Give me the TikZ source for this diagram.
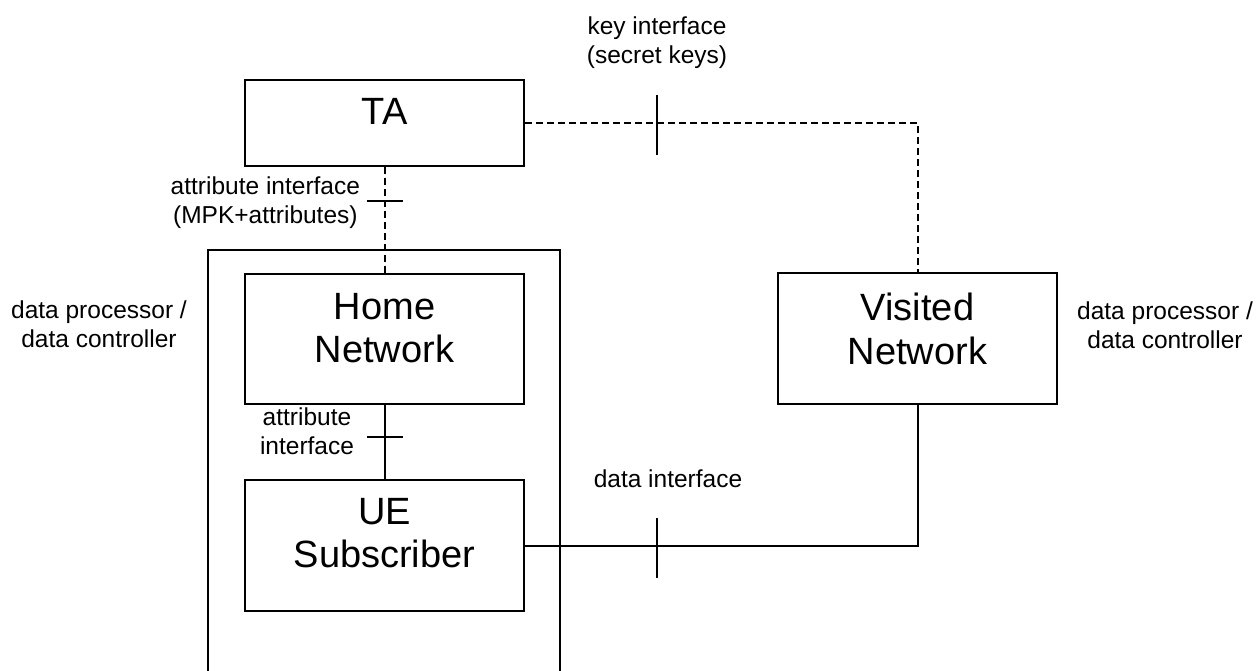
\documentclass[tikz,border=0pt]{standalone}
\usepackage{fontspec}
\setmainfont{Liberation Sans}
\begin{document}
\begin{tikzpicture}[x=1pt,y=-1pt, line width=2pt,
  box/.style={draw, rectangle, inner sep=0pt, minimum width=279pt},
  big/.style={font=\fontsize{38}{43.5}\selectfont, align=center, inner sep=0pt},
  small/.style={font=\fontsize{24.5}{29.3}\selectfont, align=center, inner sep=0pt},
  iface/.style={dash pattern=on 7pt off 4pt}]
\useasboundingbox (0,0) rectangle (1259,671);

% boxes
\node[box, minimum height=86pt]  (ta)   at (384.5,123)   {};
\node[box, minimum height=130pt] (home) at (384.5,339)   {};
\node[box, minimum height=131pt] (ue)   at (384.5,545.5) {};
\node[box, minimum height=131pt] (vn)   at (917.5,338.5) {};

% box texts
\node[big] (tat)   at (384.5,111) {TA};
\node[big] (homet) at (384.5,328) {Home\\Network};
\node[big] (uet)   at (384.5,533) {UE\\Subscriber};
\node[big] (vnt)   at (917.5,329) {Visited\\Network};

% outer domain box (open at the bottom edge)
\coordinate (ob1) at (208,675);
\coordinate (ob2) at (208,250);
\coordinate (ob3) at (560,250);
\coordinate (ob4) at (560,675);
\draw (ob1) -- (ob2) -- (ob3) -- (ob4);

% connectors
\draw[iface] (ta.south) -- (home.north);
\draw[iface] (ta.east) -| (vn.north);
\draw (home.south) -- (ue.north);
\draw (ue.east) -| (vn.south);

% interface ticks
\coordinate (a1) at (366.5,201); \coordinate (a2) at (402.5,201);
\draw (a1) -- (a2);
\coordinate (b1) at (366.5,437); \coordinate (b2) at (402.5,437);
\draw (b1) -- (b2);
\coordinate (k1) at (657,95); \coordinate (k2) at (657,155);
\draw (k1) -- (k2);
\coordinate (d1) at (657,518); \coordinate (d2) at (657,578);
\draw (d1) -- (d2);

% labels
\node[small] (keyl)  at (657,43)  {key interface\\(secret keys)};
\node[small, anchor=east] (attl1) at (361,203) {attribute interface\\(MPK+attributes)};
\node[small] (attl2) at (307,431) {attribute\\interface};
\node[small] (datal) at (668,479) {data interface};
\node[small] (dpl)   at (99,324)  {data processor /\\data controller};
\node[small] (dpr)   at (1165,325) {data processor /\\data controller};
\end{tikzpicture}
\end{document}
